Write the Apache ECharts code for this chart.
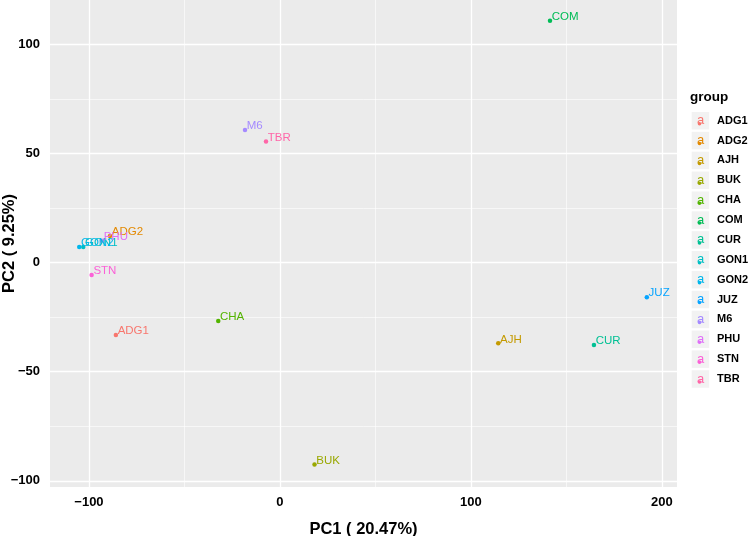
<!DOCTYPE html>
<html><head><meta charset="utf-8">
<script src="https://cdn.jsdelivr.net/npm/echarts@6/dist/echarts.min.js"></script>
<style>html,body{margin:0;padding:0;background:#fff}#c{width:750px;height:536px}</style>
</head><body><div id="c"></div>
<script>
const groups = ['ADG1','ADG2','AJH','BUK','CHA','COM','CUR','GON1','GON2','JUZ','M6','PHU','STN','TBR'];
const pc1 = [-85.9, -89.0, 114.3, 18.1, -32.3, 141.4, 164.4, -103.0, -105.1, 192.1, -18.3, -93.2, -98.6, -7.3];
const pc2 = [-33.2, 12.2, -37.0, -92.5, -26.8, 110.8, -37.8, 7.2, 7.2, -15.9, 60.8, 10.0, -5.7, 55.5];
const colors = ['#F8766D','#E38900','#C49A00','#99A800','#53B400','#00BC56','#00C094','#00BFC4','#00B6EB','#06A4FF','#A58AFF','#DF70F8','#FB61D7','#FF66A8'];
const xMajor = [-100, 0, 100, 200];
const xMinor = [-50, 50, 150];
const yMajor = [-100, -50, 0, 50, 100];
const yMinor = [-75, -25, 25, 75];
const xTitle = 'PC1 ( 20.47%)';
const yTitle = 'PC2 ( 9.25%)';
const legendTitle = 'group';

const FONT = '"Liberation Sans", Arial, Helvetica, sans-serif';
const chart = echarts.init(document.getElementById('c'), null, {renderer: 'canvas'});
const minus = v => String(v).replace('-', '\u2212');

const gridLines = [];
xMinor.forEach(v => gridLines.push({xAxis: v, lineStyle: {width: 0.6}}));
yMinor.forEach(v => gridLines.push({yAxis: v, lineStyle: {width: 0.6}}));
xMajor.forEach(v => gridLines.push({xAxis: v, lineStyle: {width: 1.3}}));
yMajor.forEach(v => gridLines.push({yAxis: v, lineStyle: {width: 1.3}}));

const series = [{
  type: 'scatter', data: [], z: 1, silent: true,
  markLine: {
    silent: true, symbol: 'none', animation: false, z: 1,
    label: {show: false},
    lineStyle: {color: '#FFFFFF', type: 'solid'},
    emphasis: {disabled: true},
    data: gridLines
  }
}];
groups.forEach((g, i) => {
  series.push({
    name: g, type: 'scatter', z: 3,
    symbol: 'circle', symbolSize: 4.5,
    itemStyle: {color: colors[i], opacity: 1},
    label: {
      show: true, formatter: g, position: 'right', distance: 0, offset: [-0.5, -4],
      color: colors[i], fontFamily: FONT, fontSize: 11.5
    },
    data: [[pc1[i], pc2[i]]]
  });
});

const legendChildren = [{
  type: 'text', left: 690, top: 90,
  style: {text: legendTitle, font: 'bold 13.5px ' + FONT, fill: '#000'}
}];
groups.forEach((g, i) => {
  const cy = 120.7 + i * 19.87;
  legendChildren.push({type: 'rect', shape: {x: 691.7, y: cy - 8.75, width: 17.5, height: 17.5}, style: {fill: '#F2F2F2'}});
  legendChildren.push({type: 'circle', shape: {cx: 699.5, cy: cy + 3, r: 1.8}, style: {fill: colors[i]}});
  legendChildren.push({type: 'text', x: 700.5, y: cy, style: {text: 'a', font: '13px ' + FONT, fill: colors[i], align: 'center', verticalAlign: 'middle'}});
  legendChildren.push({type: 'text', x: 717, y: cy, style: {text: g, font: 'bold 11px ' + FONT, fill: '#000', align: 'left', verticalAlign: 'middle'}});
});

chart.setOption({
  animation: false,
  backgroundColor: '#FFFFFF',
  grid: {left: 50, right: 73, top: 0, bottom: 49, show: true, backgroundColor: '#EBEBEB', borderWidth: 0, containLabel: false, outerBoundsMode: 'none'},
  xAxis: {
    type: 'value', min: -120.4, max: 207.9,
    name: xTitle, nameLocation: 'middle', nameGap: 34, nameMoveOverlap: false,
    nameTextStyle: {fontFamily: FONT, fontSize: 16.5, fontWeight: 'bold', color: '#000'},
    axisLine: {show: false},
    axisTick: {show: true, length: 3, customValues: xMajor, lineStyle: {color: '#333', width: 1}},
    axisLabel: {customValues: xMajor, margin: 9, formatter: minus, fontFamily: FONT, fontSize: 13, fontWeight: 'bold', color: '#000'},
    splitLine: {show: false}, minorSplitLine: {show: false}
  },
  yAxis: {
    type: 'value', min: -102.8, max: 120.3,
    name: yTitle, nameLocation: 'middle', nameGap: 32, nameMoveOverlap: false,
    nameTextStyle: {fontFamily: FONT, fontSize: 16.5, fontWeight: 'bold', color: '#000'},
    axisLine: {show: false},
    axisTick: {show: true, length: 3, customValues: yMajor, lineStyle: {color: '#333', width: 1}},
    axisLabel: {customValues: yMajor, margin: 10, formatter: minus, fontFamily: FONT, fontSize: 13, fontWeight: 'bold', color: '#000'},
    splitLine: {show: false}, minorSplitLine: {show: false}
  },
  series: series,
  graphic: [{type: 'group', children: legendChildren}]
});
</script>
</body></html>
